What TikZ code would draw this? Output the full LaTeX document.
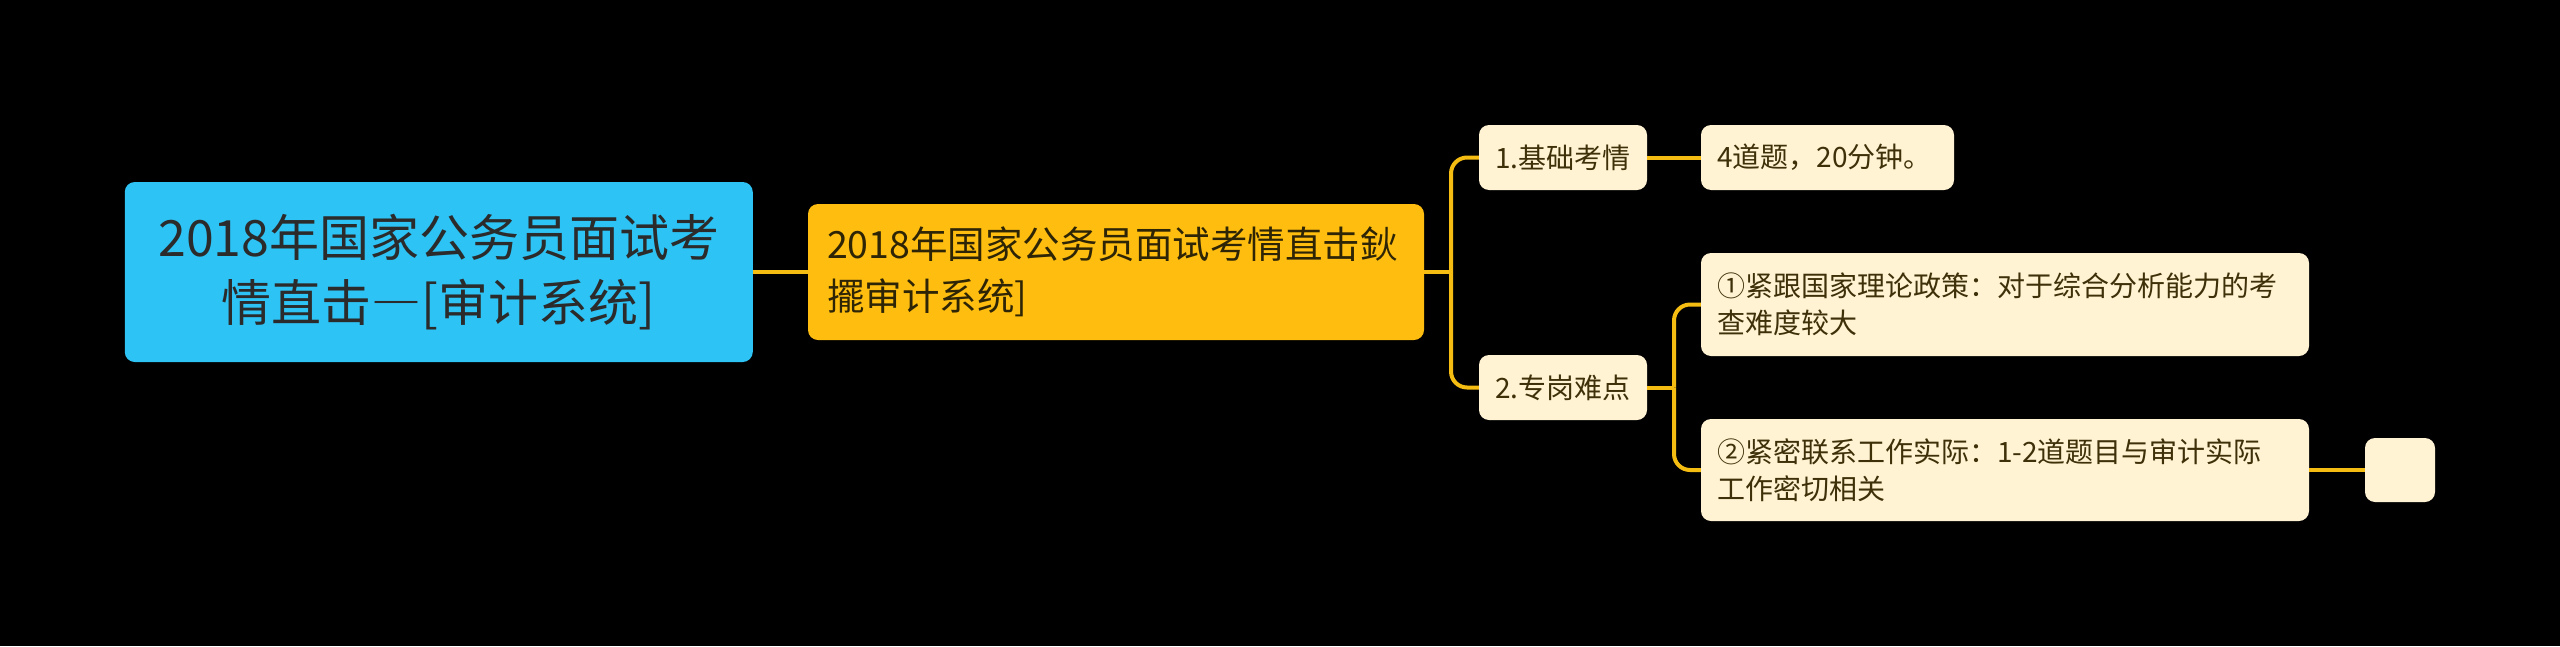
\documentclass[tikz,border=0pt]{standalone}
\usepackage{fontspec}
\setmainfont{Noto Sans CJK SC}
\newfontfamily\fwdash[RawFeature=+fwid]{Noto Sans CJK SC}
\definecolor{rootfill}{HTML}{2EC3F5}
\definecolor{roottext}{HTML}{2B2B2B}
\definecolor{mainfill}{HTML}{FFBE0F}
\definecolor{maintext}{HTML}{2E2406}
\definecolor{leaffill}{HTML}{FFF3D3}
\definecolor{leaftext}{HTML}{3E3008}
\definecolor{linecol}{HTML}{F5BC12}
\begin{document}
\begin{tikzpicture}[x=1pt,y=-1pt,
  basebox/.style={rectangle, rounded corners=10pt, inner xsep=16pt, inner ysep=0pt, anchor=center},
  rootbox/.style={basebox, fill=rootfill, text=roottext, align=center,
     font=\fontsize{50}{65}\selectfont},
  mainbox/.style={basebox, fill=mainfill, text=maintext, align=left, inner xsep=19pt,
     font=\fontsize{37.5}{52}\selectfont},
  leafbox/.style={basebox, fill=leaffill, text=leaftext, align=left,
     font=\fontsize{28}{37}\selectfont},
  conn/.style={draw=linecol, line width=4pt}
]
\fill[black] (0,0) rectangle (2560,646);
\useasboundingbox (0,0) rectangle (2560,646);

\node[rootbox, text width=596pt, minimum height=180pt] (root) at (438.75,272)
  {2018年国家公务员面试考\\情直击{\fwdash —}[审计系统]};
\node[mainbox, text width=578pt, minimum height=136pt] (main) at (1116,272)
  {2018年国家公务员面试考情直击鈥\\擺审计系统]};
\node[leafbox, text width=136pt, minimum height=65pt] (c1) at (1563,157.5) {1.基础考情};
\node[leafbox, text width=136pt, minimum height=65pt] (c2) at (1563,387.5) {2.专岗难点};
\node[leafbox, text width=221pt, minimum height=65pt] (g1) at (1827.5,157.5) {4道题，20分钟。};
\node[leafbox, text width=576pt, minimum height=103pt] (g2) at (2005,304.5)
  {①紧跟国家理论政策：对于综合分析能力的考\\查难度较大};
\node[leafbox, text width=576pt, minimum height=102pt] (g3) at (2005,470)
  {②紧密联系工作实际：1-2道题目与审计实际\\工作密切相关};
\node[leafbox, minimum width=70pt, minimum height=64pt, inner xsep=0pt] (e1) at (2400,470) {};

\coordinate (j1) at (1451,272);
\coordinate (j2) at (1674,387.5);

\draw[conn] (root.east) -- (main.west);
\draw[conn] (main.east) -- (j1);
\draw[conn, rounded corners=16pt] (j1) |- (c1.west);
\draw[conn, rounded corners=16pt] (j1) |- (c2.west);
\draw[conn] (c1.east) -- (g1.west);
\draw[conn] (c2.east) -- (j2);
\draw[conn, rounded corners=16pt] (j2) |- (g2.west);
\draw[conn, rounded corners=16pt] (j2) |- (g3.west);
\draw[conn] (g3.east) -- (e1.west);
\end{tikzpicture}
\end{document}
